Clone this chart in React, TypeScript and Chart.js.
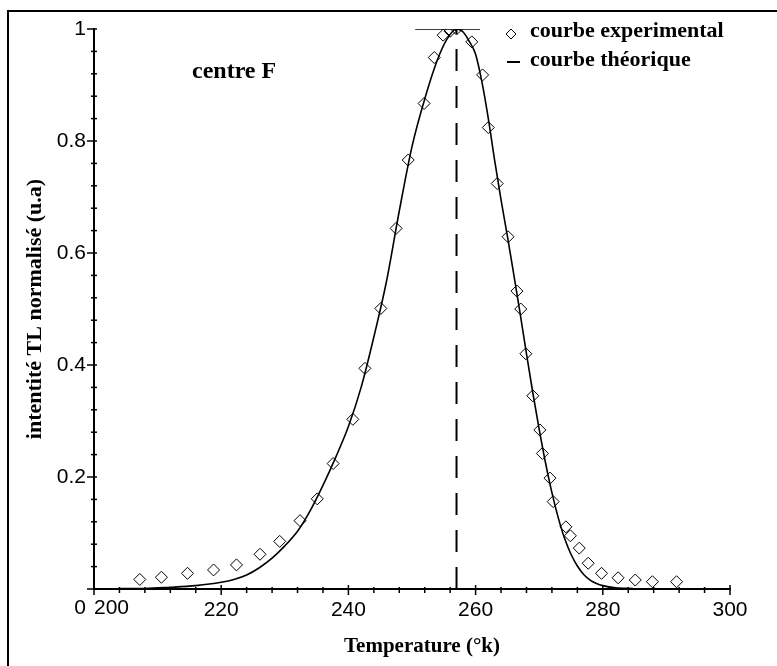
import React, { useEffect, useRef } from 'react';
import { Chart, registerables } from 'chart.js';

Chart.register(...registerables);

// Experimental points (temperature K, normalised TL intensity)
const expT = [207.2, 210.6, 214.7, 218.8, 222.4, 226.1, 229.2, 232.4, 235.1, 237.6, 240.7, 242.6, 245.1, 247.5, 249.4, 251.9, 253.5, 254.9, 256.0, 257.0, 259.4, 261.1, 262.0, 263.4, 265.1, 266.5, 267.1, 267.9, 269.0, 270.1, 270.5, 271.7, 272.2, 274.2, 274.9, 276.3, 277.7, 279.8, 282.4, 285.1, 287.8, 291.6];
const expI = [0.017, 0.021, 0.028, 0.034, 0.043, 0.062, 0.085, 0.122, 0.161, 0.224, 0.303, 0.394, 0.501, 0.644, 0.766, 0.867, 0.949, 0.989, 0.996, 1.0, 0.977, 0.918, 0.824, 0.724, 0.629, 0.532, 0.5, 0.42, 0.345, 0.284, 0.242, 0.198, 0.156, 0.111, 0.095, 0.073, 0.046, 0.028, 0.02, 0.016, 0.013, 0.013];

// Theoretical curve
const theoT = [204, 208, 212, 216, 220, 222, 224, 226, 228, 230, 232, 234, 236, 238, 240, 242, 244, 246, 248, 250, 252, 254, 255.5, 257, 258, 259, 260, 261, 262, 263, 264, 265, 266, 267, 268, 269, 270, 271, 272, 273, 274, 275, 276, 277, 278, 279, 280, 282, 284.7];
const theoI = [0.001, 0.001, 0.003, 0.006, 0.012, 0.017, 0.025, 0.038, 0.055, 0.077, 0.103, 0.14, 0.185, 0.235, 0.29, 0.36, 0.45, 0.55, 0.675, 0.79, 0.875, 0.945, 0.982, 1.0, 0.995, 0.978, 0.955, 0.905, 0.84, 0.765, 0.695, 0.63, 0.562, 0.492, 0.42, 0.35, 0.285, 0.225, 0.172, 0.127, 0.09, 0.062, 0.041, 0.026, 0.016, 0.01, 0.006, 0.002, 0.001];

// Peak position marker (vertical dashed) and top cap segment
const peakT = [257, 257];
const peakI = [0, 1];
const capT = [250.5, 260.7];
const capI = [1, 1];

// Axis ranges and labelled ticks
const xMin = 200;
const xMax = 300;
const xStep = 4;
const xLabelled = [200, 220, 240, 260, 280, 300];
const yMin = 0;
const yMax = 1;
const yStep = 0.04;
const yLabelled = ['0', '0.2', '0.4', '0.6', '0.8', '1'];

const legendLabels = ['courbe experimental', 'courbe théorique'];
const annotationText = 'centre F';
const xTitle = 'Temperature (°k)';
const yTitle = 'intentité TL normalisé (u.a)';

const zip = (a: number[], b: number[]) => a.map((v, i) => ({ x: v, y: b[i] }));

const SANS = "'Liberation Sans', Arial, sans-serif";
const SERIF = "'Liberation Serif', 'Times New Roman', serif";

const decorPlugin = {
  id: 'decor',
  afterDraw(chart: any) {
    const { ctx, scales } = chart;
    const x = scales.x;
    const y = scales.y;
    const ax = y.right;
    const ay = x.top;
    ctx.save();
    ctx.strokeStyle = '#000';
    ctx.fillStyle = '#000';

    // outer frame
    ctx.lineWidth = 2;
    ctx.beginPath();
    ctx.moveTo(8, 666);
    ctx.lineTo(8, 11);
    ctx.lineTo(777, 11);
    ctx.stroke();

    // tick marks
    ctx.lineWidth = 1.5;
    x.ticks.forEach((t: any) => {
      const px = x.getPixelForValue(t.value);
      const major = xLabelled.some((v) => Math.abs(v - t.value) < 1e-6);
      ctx.beginPath();
      ctx.moveTo(px, ay - (major ? 4 : 2));
      ctx.lineTo(px, ay + (major ? 6 : 4));
      ctx.stroke();
    });
    y.ticks.forEach((t: any) => {
      const py = y.getPixelForValue(t.value);
      const major = Math.round(t.value * 100) % 20 === 0;
      ctx.beginPath();
      ctx.moveTo(ax - (major ? 7 : 3), py);
      ctx.lineTo(ax + 3, py);
      ctx.stroke();
    });

    // corner labels (0 and 200)
    ctx.font = `21px ${SANS}`;
    ctx.textBaseline = 'top';
    ctx.textAlign = 'right';
    ctx.fillText(yLabelled[0], ax - 8, ay + 9);
    ctx.textAlign = 'left';
    ctx.fillText(String(xLabelled[0]), ax, ay + 9);

    // x axis title
    ctx.font = `bold 21px ${SERIF}`;
    ctx.textAlign = 'center';
    ctx.textBaseline = 'middle';
    ctx.fillText(xTitle, 422, 647);

    // annotation
    ctx.font = `bold 24px ${SERIF}`;
    ctx.textAlign = 'left';
    ctx.textBaseline = 'alphabetic';
    ctx.fillText(annotationText, 192, 78);

    // legend
    ctx.font = `bold 22px ${SERIF}`;
    ctx.fillText(legendLabels[0], 530, 37);
    ctx.fillText(legendLabels[1], 530, 66);
    ctx.lineWidth = 1;
    ctx.beginPath();
    const cx = 511, cy = 34, r = 5;
    ctx.moveTo(cx - r, cy);
    ctx.lineTo(cx, cy - r);
    ctx.lineTo(cx + r, cy);
    ctx.lineTo(cx, cy + r);
    ctx.closePath();
    ctx.stroke();
    ctx.lineWidth = 2;
    ctx.beginPath();
    ctx.moveTo(507, 62);
    ctx.lineTo(520, 62);
    ctx.stroke();
    ctx.restore();
  },
};

export default function App() {
  const ref = useRef<HTMLCanvasElement | null>(null);
  useEffect(() => {
    if (!ref.current) return;
    const chart = new Chart(ref.current, {
      type: 'scatter',
      data: {
        datasets: [
          {
            label: legendLabels[1],
            data: zip(theoT, theoI),
            showLine: true,
            borderColor: '#000',
            borderWidth: 1.6,
            pointRadius: 0,
            cubicInterpolationMode: 'monotone',
          },
          {
            label: 'peak',
            data: zip(peakT, peakI),
            showLine: true,
            borderColor: '#000',
            borderWidth: 2,
            borderDash: [22, 15],
            pointRadius: 0,
          },
          {
            label: 'cap',
            data: zip(capT, capI),
            showLine: true,
            borderColor: '#000',
            borderWidth: 1.5,
            pointRadius: 0,
          },
          {
            label: legendLabels[0],
            data: zip(expT, expI),
            showLine: false,
            pointStyle: 'rectRot',
            pointRadius: 6,
            pointBorderWidth: 1,
            pointBorderColor: '#000',
            pointBackgroundColor: 'rgba(0,0,0,0)',
          },
        ],
      } as any,
      options: {
        animation: false,
        responsive: false,
        maintainAspectRatio: false,
        devicePixelRatio: 1,
        layout: { padding: { left: 0, top: 29, right: 47, bottom: 0 } },
        plugins: {
          legend: { display: false },
          tooltip: { enabled: false },
        },
        scales: {
          x: {
            type: 'linear',
            min: xMin,
            max: xMax,
            grid: { display: false, drawTicks: false },
            border: { display: true, color: '#000', width: 2 },
            ticks: {
              stepSize: xStep,
              autoSkip: false,
              maxRotation: 0,
              padding: 9,
              color: '#000',
              font: { family: SANS, size: 21 },
              callback: (v: any) => {
                const n = Number(v);
                if (Math.abs(n - xLabelled[0]) < 1e-6) return '';
                const hit = xLabelled.find((l) => Math.abs(l - n) < 1e-6);
                return hit !== undefined ? String(hit) : '';
              },
            },
            title: { display: false, text: xTitle },
            afterFit: (s: any) => {
              s.height = 77;
            },
          },
          y: {
            type: 'linear',
            min: yMin,
            max: yMax,
            grid: { display: false, drawTicks: false },
            border: { display: true, color: '#000', width: 2 },
            ticks: {
              stepSize: yStep,
              autoSkip: false,
              padding: 8,
              color: '#000',
              font: { family: SANS, size: 21 },
              callback: (v: any) => {
                const k = Math.round(Number(v) * 100);
                if (k === 0 || k % 20 !== 0) return '';
                return yLabelled[k / 20];
              },
            },
            title: {
              display: true,
              text: yTitle,
              color: '#000',
              font: { family: SERIF, size: 22, weight: 'bold' },
              padding: { top: 22, bottom: 0 },
            },
            afterFit: (s: any) => {
              s.width = 94;
            },
          },
        },
      } as any,
      plugins: [decorPlugin],
    });
    return () => chart.destroy();
  }, []);

  return (
    <div style={{ position: 'fixed', left: 0, top: 0, width: 777, height: 666, background: '#fff' }}>
      <canvas ref={ref} width={777} height={666} style={{ display: 'block' }} />
    </div>
  );
}
